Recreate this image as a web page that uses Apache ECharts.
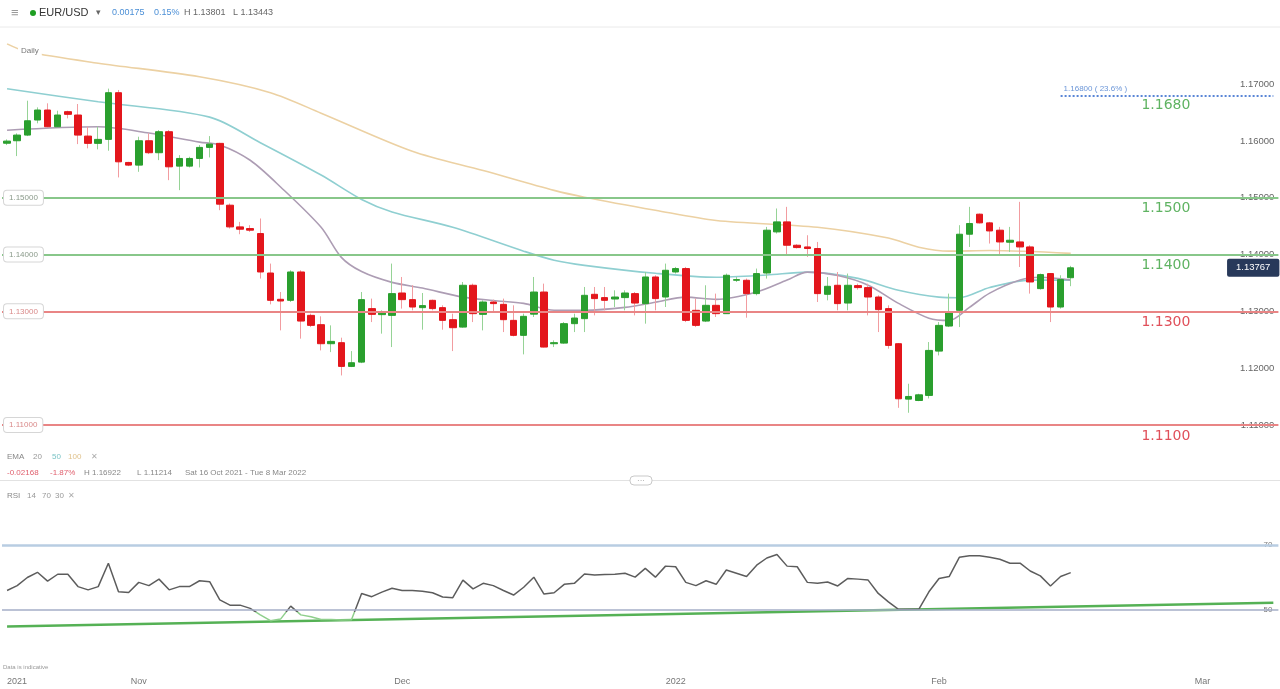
<!DOCTYPE html>
<html><head><meta charset="utf-8">
<script src="https://cdn.jsdelivr.net/npm/echarts@6/dist/echarts.min.js"></script>
<style>html,body{margin:0;padding:0;background:#fff}#c{width:1280px;height:689px}</style>
</head><body><div id="c"></div>
<script>
// ---------- DATA ----------
// daily candles (Sun-Fri), Sun 17 Oct 2021 .. Wed 16 Feb 2022 : [open, close, low, high]
const ohlc = [
[1.15960,1.15998,1.15928,1.16028],[1.16004,1.16104,1.15734,1.16134],[1.16104,1.16356,1.16086,1.16709],
[1.16369,1.16545,1.16311,1.16592],[1.16545,1.16251,1.16240,1.16663],[1.16251,1.16457,1.16240,1.16533],
[1.16516,1.16469,1.16398,1.16533],[1.16457,1.16104,1.15945,1.16651],[1.16086,1.15958,1.15870,1.16251],
[1.15958,1.16028,1.15852,1.16251],[1.16028,1.16850,1.15828,1.16922],[1.16850,1.15633,1.15358,1.16898],
[1.15622,1.15575,1.15557,1.15633],[1.15575,1.16004,1.15457,1.16075],[1.16004,1.15793,1.15769,1.16134],
[1.15793,1.16163,1.15663,1.16192],[1.16163,1.15545,1.15310,1.16192],[1.15557,1.15692,1.15134,1.15751],
[1.15557,1.15692,1.15534,1.15722],[1.15692,1.15887,1.15534,1.15928],[1.15887,1.15945,1.15710,1.16086],
[1.15958,1.14887,1.14781,1.15968],[1.14869,1.14487,1.14458,1.14899],[1.14487,1.14446,1.14358,1.14575],
[1.14458,1.14429,1.14399,1.14517],[1.14370,1.13693,1.13577,1.14635],[1.13675,1.13194,1.13123,1.13841],
[1.13212,1.13182,1.12665,1.13340],[1.13194,1.13693,1.13164,1.13723],[1.13693,1.12829,1.12519,1.13723],
[1.12929,1.12753,1.12723,1.12959],[1.12765,1.12430,1.12312,1.12912],[1.12430,1.12471,1.12282,1.12753],
[1.12448,1.12030,1.11871,1.12536],[1.12030,1.12095,1.12018,1.12300],[1.12106,1.13206,1.12088,1.13340],
[1.13048,1.12947,1.12811,1.13224],[1.12942,1.12970,1.12607,1.13018],[1.12929,1.13312,1.12371,1.13841],
[1.13323,1.13206,1.13048,1.13605],[1.13206,1.13076,1.13018,1.13459],[1.13065,1.13101,1.12677,1.13323],
[1.13194,1.13048,1.13018,1.13206],[1.13065,1.12841,1.12677,1.13106],[1.12853,1.12712,1.12300,1.12959],
[1.12723,1.13459,1.12712,1.13517],[1.13459,1.12959,1.12811,1.13488],[1.12947,1.13164,1.12665,1.13194],
[1.13164,1.13136,1.13006,1.13206],[1.13123,1.12853,1.12635,1.13224],[1.12841,1.12577,1.12559,1.13106],
[1.12577,1.12912,1.12242,1.12959],[1.12950,1.13340,1.12900,1.13605],[1.13340,1.12371,1.12365,1.13488],
[1.12430,1.12448,1.12371,1.12489],[1.12441,1.12783,1.12430,1.12811],[1.12783,1.12882,1.12635,1.12959],
[1.12871,1.13282,1.12635,1.13429],[1.13300,1.13224,1.12929,1.13429],[1.13242,1.13194,1.13018,1.13429],
[1.13217,1.13252,1.13076,1.13370],[1.13242,1.13323,1.13018,1.13370],[1.13312,1.13146,1.12929,1.13340],
[1.13136,1.13605,1.12783,1.13693],[1.13605,1.13224,1.13018,1.13635],[1.13252,1.13723,1.13076,1.13841],
[1.13693,1.13753,1.13665,1.13782],[1.13753,1.12841,1.12811,1.13782],[1.13018,1.12753,1.12723,1.13224],
[1.12829,1.13106,1.12811,1.13459],[1.13106,1.12959,1.12900,1.13312],[1.12959,1.13635,1.12959,1.13665],
[1.13547,1.13559,1.13517,1.13605],[1.13547,1.13312,1.12888,1.13577],[1.13312,1.13665,1.13282,1.13753],
[1.13675,1.14429,1.13577,1.14487],[1.14399,1.14575,1.14370,1.14811],[1.14575,1.14164,1.13988,1.14840],
[1.14164,1.14123,1.14106,1.14182],[1.14134,1.14106,1.13958,1.14340],[1.14106,1.13312,1.13164,1.14222],
[1.13300,1.13441,1.13194,1.13605],[1.13459,1.13136,1.13018,1.13693],[1.13146,1.13459,1.13018,1.13665],
[1.13453,1.13418,1.13382,1.13488],[1.13418,1.13252,1.12929,1.13488],[1.13252,1.13030,1.12635,1.13282],
[1.13048,1.12400,1.12342,1.13106],[1.12430,1.11460,1.11301,1.12441],[1.11454,1.11501,1.11214,1.11725],
[1.11430,1.11530,1.11418,1.11548],[1.11519,1.12312,1.11466,1.12459],[1.12300,1.12753,1.12224,1.12811],
[1.12741,1.12988,1.12723,1.13312],[1.13018,1.14358,1.12723,1.14517],[1.14358,1.14547,1.14134,1.14840],
[1.14711,1.14558,1.14547,1.14723],[1.14558,1.14416,1.14194,1.14575],[1.14429,1.14222,1.13988,1.14487],
[1.14217,1.14252,1.14046,1.14487],[1.14222,1.14134,1.13781,1.14928],[1.14134,1.13517,1.13312,1.14164],
[1.13400,1.13647,1.13382,1.13665],[1.13665,1.13076,1.12811,1.13675],[1.13076,1.13559,1.13048,1.13635],
[1.13592,1.13767,1.13443,1.13801]
];
// EMA readings [candle index, value]
const ema20 = [[0,1.1619],[9,1.1625],[14,1.1614],[19,1.1598],[21,1.1593],[24,1.1566],[27,1.1519],[31,1.1448],
 [33,1.1395],[35,1.1370],[38,1.1351],[41,1.1341],[45,1.1325],[48,1.1319],[51,1.1314],[54,1.1302],[57,1.1302],
 [61,1.1307],[64,1.1316],[67,1.1325],[70,1.1321],[74,1.1334],[77,1.1355],[79,1.1369],[82,1.1363],[85,1.1346],
 [88,1.1314],[91,1.1288],[93,1.1284],[95,1.1307],[97,1.1332],[100,1.1355],[102,1.1360],[105,1.1355]];
const ema50 = [[0,1.1692],[9,1.1669],[20,1.1642],[25,1.1597],[31,1.1540],[35,1.1497],[38,1.1475],[44,1.1448],
 [51,1.1406],[54,1.1390],[57,1.1381],[64,1.1367],[70,1.1360],[75,1.1364],[79,1.1369],[84,1.1358],[88,1.1337],
 [92,1.1325],[94,1.1324],[97,1.1342],[101,1.1355],[105,1.1355]];
const ema100 = [[0,1.1771],[2,1.1757],[9,1.1737],[19,1.1713],[26,1.1685],[31,1.1649],[40,1.1582],[47,1.1548],
 [54,1.1513],[57,1.1501],[64,1.1478],[70,1.1460],[80,1.1448],[87,1.1429],[90,1.1413],[93,1.1406],[97,1.1407],[105,1.1402]];
// RSI(14) per candle
const rsi = [56.0,57.5,60.0,61.6,58.9,61.0,61.0,57.2,56.2,57.2,
 64.4,55.6,55.4,58.5,57.5,59.5,56.2,57.2,57.2,59.0,
 58.7,53.1,51.5,51.5,50.5,48.5,46.7,47.2,51.2,48.5,
 47.9,47.1,47.1,46.9,47.0,55.1,54.1,55.5,56.7,56.0,
 56.0,55.8,55.3,54.0,53.8,59.2,56.5,58.2,57.5,56.0,
 54.6,57.0,60.1,54.9,55.3,57.9,58.2,61.1,60.8,60.9,
 61.0,61.3,60.1,62.8,60.1,63.5,63.3,58.5,57.5,59.0,
 57.9,62.3,61.3,60.3,63.8,66.0,67.1,63.5,63.3,58.5,
 58.2,58.6,57.4,59.7,59.5,59.2,55.1,52.5,50.2,50.2,
 50.2,55.6,59.7,60.3,66.2,66.7,66.7,66.2,65.6,64.4,
 64.4,62.0,60.5,57.4,60.3,61.5];
const rsiTrend = [[0,44.9],[125,52.2]];
const rsiMid = 50;
const supportRes = [ // value, big label, axis tag, kind
 {v:1.15, label:'1.1500', tag:'1.15000', kind:'res'},
 {v:1.14, label:'1.1400', tag:'1.14000', kind:'res'},
 {v:1.13, label:'1.1300', tag:'1.13000', kind:'sup'},
 {v:1.11, label:'1.1100', tag:'1.11000', kind:'sup'}
];
const fibLevel = {v:1.168, label:'1.1680', tag:'1.16800 ( 23.6% )', fromIdx:104};
const lastPrice = 1.13767;
const monthNames = ['Jan','Feb','Mar','Apr','May','Jun','Jul','Aug','Sep','Oct','Nov','Dec'];

// categories: trading days (Saturdays skipped) up to last candle, then calendar days
function buildDates(){
  const out=[]; const DAY=86400000;
  const start=Date.UTC(2021,9,17), lastCandle=Date.UTC(2022,1,16), end=Date.UTC(2022,2,8);
  for(let t=start;t<=end;t+=DAY){
    const d=new Date(t);
    if(t>lastCandle || d.getUTCDay()!==6) out.push(d.toISOString().slice(0,10));
  }
  return out;
}
const dates = buildDates();

// ---------- CHART ----------
const GREEN='#2a9f2e', RED='#e3161c', GWICK='#96d396', RWICK='#f29ca0';
const LVL={res:{line:'#88c78a',text:'#5fb362',tag:'#8a9a8a'}, sup:{line:'#e98585',text:'#e0505a',tag:'#d98a8a'}};
const FONT='"Liberation Sans", Arial, sans-serif';
const CLEAR='rgba(0,0,0,0)';

const levelMarks=[];
supportRes.forEach(l=>{
  const c=LVL[l.kind];
  levelMarks.push({yAxis:l.v, lineStyle:{color:c.line,width:2,type:'solid'},
    label:{show:true,position:'insideStart',distance:[2,0],formatter:l.tag,fontSize:8,color:c.tag,fontFamily:FONT,
      backgroundColor:'#fff',borderColor:'#d6d6d6',borderWidth:1,borderRadius:3,padding:[3,5]}});
  levelMarks.push({yAxis:l.v, lineStyle:{color:CLEAR,width:0},
    label:{show:true,position:'insideEndBottom',distance:[88,4],formatter:l.label,fontSize:14,color:c.text,fontFamily:'"DejaVu Sans", sans-serif'}});
});
levelMarks.push([{coord:[fibLevel.fromIdx,fibLevel.v],lineStyle:{color:'#5a86d6',width:2,type:[2,2]},
    label:{show:true,position:'insideStartTop',distance:[3,3],formatter:fibLevel.tag,fontSize:8,color:'#6b96d8',fontFamily:FONT}},
  {coord:[dates.length-1,fibLevel.v]}]);
levelMarks.push({yAxis:fibLevel.v, lineStyle:{color:CLEAR,width:0},
  label:{show:true,position:'insideEndBottom',distance:[88,3],formatter:fibLevel.label,fontSize:14,color:'#5fb362',fontFamily:'"DejaVu Sans", sans-serif'}});

// RSI line colour: gray above the mid line, green below (gradient over the line's own extent)
const rMax=Math.max(...rsi), rMin=Math.min(...rsi), cut=(rMax-rsiMid)/(rMax-rMin);
const rsiColor={type:'linear',x:0,y:0,x2:0,y2:1,colorStops:[
  {offset:0,color:'#5c5c5c'},{offset:cut,color:'#5c5c5c'},{offset:cut,color:'#8fcf8c'},{offset:1,color:'#8fcf8c'}]};

function txt(x,y,text,fill,size,extra){
  return {type:'text',x:x,y:y,z:100,style:Object.assign({text:text,fill:fill,font:size+'px '+FONT,verticalAlign:'middle'},extra||{})};
}

const option={
  animation:false,
  backgroundColor:'#fff',
  grid:[
    {left:2,top:27.4,width:1276.4,height:454.3},
    {left:2,top:480,width:1276.4,height:195}
  ],
  xAxis:[
    {type:'category',gridIndex:0,data:dates,boundaryGap:true,show:false},
    {type:'category',gridIndex:1,data:dates,boundaryGap:true,
     axisLine:{show:false},axisTick:{show:false},splitLine:{show:false},
     axisLabel:{color:'#777',fontSize:9,margin:2,fontFamily:FONT,alignMinLabel:'left',
       interval:(i)=> i===0 || dates[i].slice(0,7)!==dates[i-1].slice(0,7),
       formatter:(v,i)=>{const y=v.slice(0,4), m=+v.slice(5,7)-1; if(i===0||m===0) return y; return monthNames[m];}}}
  ],
  yAxis:[
    {type:'value',gridIndex:0,position:'right',min:1.10,max:1.18,interval:0.01,
     axisLine:{show:false},axisTick:{show:false},splitLine:{show:false},
     axisLabel:{inside:true,margin:4,color:'#666',fontSize:9.5,fontFamily:FONT,showMinLabel:false,showMaxLabel:false,
       formatter:(v)=>v.toFixed(5)}},
    {type:'value',gridIndex:1,position:'right',min:30,max:90,interval:10,
     axisLine:{show:false},axisTick:{show:false},splitLine:{show:false},
     axisLabel:{inside:true,margin:6,color:'#777',fontSize:8,fontFamily:FONT,
       formatter:(v)=> (v===70||v===50)? String(v):''}}
  ],
  series:[
    {name:'EMA100',type:'line',xAxisIndex:0,yAxisIndex:0,data:ema100,showSymbol:false,smooth:0.3,z:2,
     lineStyle:{color:'#ecd1a3',width:1.6},
     markLine:{symbol:'none',silent:true,animation:false,precision:6,data:levelMarks}},
    {name:'EMA50',type:'line',xAxisIndex:0,yAxisIndex:0,data:ema50,showSymbol:false,smooth:0.3,z:2,
     lineStyle:{color:'#8fcfd1',width:1.6}},
    {name:'EMA20',type:'line',xAxisIndex:0,yAxisIndex:0,data:ema20,showSymbol:false,smooth:0.3,z:2,
     lineStyle:{color:'#ad9db4',width:1.6}},
    {name:'wicks',type:'candlestick',xAxisIndex:0,yAxisIndex:0,barWidth:1,z:3,
     data:ohlc.map(r=>[r[0],r[1],r[2],r[3]]),
     itemStyle:{color:GWICK,color0:RWICK,borderColor:GWICK,borderColor0:RWICK,borderWidth:1}},
    {name:'bodies',type:'candlestick',xAxisIndex:0,yAxisIndex:0,barWidth:7,z:4,
     data:ohlc.map(r=>[r[0],r[1],Math.min(r[0],r[1]),Math.max(r[0],r[1])]),
     itemStyle:{color:GREEN,color0:RED,borderColor:GREEN,borderColor0:RED,borderWidth:1},
     markLine:{symbol:'none',silent:true,animation:false,precision:6,
       data:[{yAxis:lastPrice,lineStyle:{color:CLEAR,width:0},
         label:{show:true,position:'insideEnd',distance:[-1,0],formatter:lastPrice.toFixed(5),
           color:'#fff',backgroundColor:'#28395a',padding:[4,9],borderRadius:2,fontSize:9.5,fontFamily:FONT}}]}},
    {name:'trend',type:'line',xAxisIndex:1,yAxisIndex:1,data:rsiTrend,showSymbol:false,z:2,
     lineStyle:{color:'#55b155',width:2.5}},
    {name:'RSI',type:'line',xAxisIndex:1,yAxisIndex:1,data:rsi,showSymbol:false,z:3,
     lineStyle:{width:1.5,color:rsiColor},
     markLine:{symbol:'none',silent:true,animation:false,label:{show:false},
       data:[{yAxis:70,lineStyle:{color:'#b8cde2',width:2.5,type:'solid'}},
             {yAxis:50,lineStyle:{color:'#a5aec7',width:1.5,type:'solid'}}]}}
  ],
  graphic:[
    {type:'line',z:50,shape:{x1:0,y1:27,x2:1280,y2:27},style:{stroke:'#eaeaea',lineWidth:1}},
    txt(11,13,'≡','#9a9a9a',13),
    {type:'circle',z:100,shape:{cx:33,cy:13,r:3},style:{fill:'#1e9e22'}},
    txt(39,13,'EUR/USD','#333',11),
    txt(96,13,'▾','#666',9),
    txt(112,13,'0.00175','#4b8fd6',9),
    txt(154,13,'0.15%','#4b8fd6',9),
    txt(184,13,'H 1.13801','#666',9),
    txt(233,13,'L 1.13443','#666',9),
    txt(18,51,'Daily','#777',8,{backgroundColor:'#fff',padding:[1,3]}),
    txt(7,457,'EMA','#888',8),
    txt(33,457,'20','#999',8),
    txt(52,457,'50','#7cc4c6',8),
    txt(68,457,'100','#e0c28c',8),
    txt(91,457,'✕','#aaa',8),
    txt(7,473,'-0.02168','#e0606e',8),
    txt(50,473,'-1.87%','#e0606e',8),
    txt(84,473,'H 1.16922','#888',8),
    txt(137,473,'L 1.11214','#888',8),
    txt(185,473,'Sat 16 Oct 2021 - Tue 8 Mar 2022','#888',8),
    {type:'line',z:50,shape:{x1:0,y1:480.5,x2:1280,y2:480.5},style:{stroke:'#e2e2e2',lineWidth:1}},
    {type:'rect',z:60,shape:{x:630,y:476,width:22,height:9,r:4},style:{fill:'#fff',stroke:'#c9c9c9',lineWidth:1}},
    txt(641,480.5,'···','#aaa',8,{align:'center'}),
    txt(7,496,'RSI','#888',8),
    txt(27,496,'14','#999',8),
    txt(42,496,'70','#999',8),
    txt(55,496,'30','#999',8),
    txt(68,496,'✕','#aaa',8),
    txt(3,667,'Data is indicative','#999',6)
  ]
};
const chart=echarts.init(document.getElementById('c'),null,{renderer:'canvas'});
chart.setOption(option);
</script>
</body></html>
